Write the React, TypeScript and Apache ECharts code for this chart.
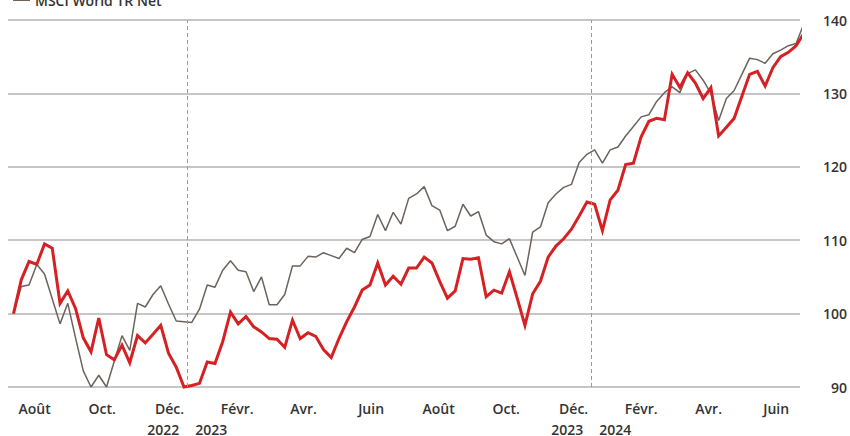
import React, { useEffect, useRef } from 'react';
import * as echarts from 'echarts';

// Weekly observations, first one on this date
const START_DATE = '2022-07-28';

const fundValues = [
  100.0, 104.6, 107.1, 106.7, 109.5, 108.9, 101.4, 103.1, 100.7, 96.7,
  94.8, 99.4, 94.4, 93.7, 95.7, 93.3, 97.0, 96.0, 97.2, 98.4,
  94.6, 92.7, 90.0, 90.2, 90.5, 93.4, 93.2, 96.2, 100.2, 98.6,
  99.6, 98.2, 97.5, 96.6, 96.5, 95.4, 99.1, 96.6, 97.4, 96.9,
  95.1, 94.0, 96.6, 98.9, 100.9, 103.2, 103.9, 106.9, 103.9, 105.1,
  104.0, 106.2, 106.2, 107.7, 106.9, 104.4, 102.1, 103.1, 107.5, 107.4,
  107.6, 102.3, 103.2, 102.8, 105.7, 102.1, 98.4, 102.7, 104.4, 107.7,
  109.2, 110.2, 111.5, 113.3, 115.2, 114.9, 111.3, 115.5, 116.8, 120.3,
  120.5, 124.1, 126.2, 126.6, 126.4, 132.6, 130.8, 132.8, 131.4, 129.3,
  130.8, 124.2, 125.4, 126.6, 129.6, 132.6, 133.0, 131.0, 133.5, 135.0,
  135.6, 136.5, 138.2,
];

const msciValues = [
  100.0, 103.7, 103.9, 106.7, 105.4, 102.0, 98.6, 101.4, 96.7, 92.2,
  90.0, 91.6, 90.0, 93.5, 97.0, 95.0, 101.4, 100.9, 102.6, 103.8,
  101.3, 99.0, 98.9, 98.8, 100.6, 103.9, 103.6, 105.9, 107.2, 105.9,
  105.7, 103.0, 105.0, 101.2, 101.2, 102.6, 106.5, 106.5, 107.8, 107.7,
  108.3, 107.9, 107.5, 108.9, 108.3, 110.1, 110.5, 113.5, 111.3, 113.8,
  112.2, 115.7, 116.3, 117.3, 114.7, 114.1, 111.3, 111.9, 114.9, 113.3,
  113.9, 110.7, 109.8, 109.5, 110.2, 107.7, 105.2, 111.1, 111.8, 115.1,
  116.3, 117.2, 117.6, 120.6, 121.7, 122.3, 120.5, 122.3, 122.7, 124.2,
  125.5, 126.8, 127.1, 128.9, 130.1, 130.9, 130.1, 132.7, 133.2, 131.8,
  130.0, 126.3, 129.3, 130.4, 132.6, 134.8, 134.6, 134.1, 135.4, 135.9,
  136.5, 136.8, 139.5,
];

const monthTickDates = [
  '2022-08-16', '2022-10-16', '2022-12-16', '2023-02-15', '2023-04-16', '2023-06-16',
  '2023-08-16', '2023-10-16', '2023-12-16', '2024-02-15', '2024-04-16', '2024-06-16',
];
const monthTickLabels = [
  'Août', 'Oct.', 'Déc.', 'Févr.', 'Avr.', 'Juin',
  'Août', 'Oct.', 'Déc.', 'Févr.', 'Avr.', 'Juin',
];
const yearBreakDates = ['2023-01-01', '2024-01-01'];
const yearBreakLabels = [['2022', '2023'], ['2023', '2024']];

const Y_MIN = 90;
const Y_MAX = 140;
const Y_STEP = 10;

const FUND_NAME = 'Fonds';
const MSCI_NAME = 'MSCI World TR Net';

const DAY = 86400000;
const dayOf = (s: string) => {
  const [y, m, d] = s.split('-').map(Number);
  return Date.UTC(y, m - 1, d) / DAY;
};

export default function App() {
  const ref = useRef<HTMLDivElement>(null);

  useEffect(() => {
    if (!ref.current) return;
    const chart = echarts.init(ref.current, undefined, { renderer: 'svg' });
    const start = dayOf(START_DATE);
    const xs = fundValues.map((_, i) => start + 7 * i);
    const monthDays = monthTickDates.map(dayOf);
    const yearDays = yearBreakDates.map(dayOf);
    const font = "'Open Sans', 'Noto Sans', sans-serif";
    const textColor = '#333333';

    chart.setOption({
      animation: false,
      textStyle: { fontFamily: font },
      legend: {
        data: [MSCI_NAME],
        left: 8,
        top: -12,
        icon: 'rect',
        itemWidth: 17,
        itemHeight: 2,
        itemGap: 5,
        textStyle: { fontFamily: font, fontSize: 14, fontWeight: 600, color: textColor },
      },
      grid: { left: 8, right: 48, top: 20, bottom: 47, containLabel: false },
      xAxis: [
        {
          type: 'value',
          min: start - 5,
          max: start + 710.5,
          position: 'bottom',
          axisLine: { show: false },
          axisTick: { show: false },
          splitLine: { show: false },
          axisLabel: {
            customValues: monthDays,
            margin: 14,
            fontFamily: font,
            fontSize: 14,
            fontWeight: 600,
            color: textColor,
            formatter: (v: number) => {
              const idx = monthDays.findIndex((d) => Math.abs(d - v) < 0.5);
              return idx >= 0 ? monthTickLabels[idx] : '';
            },
          },
        },
        {
          type: 'value',
          min: start - 5,
          max: start + 710.5,
          position: 'bottom',
          axisLine: { show: false },
          axisTick: { show: false },
          splitLine: { show: false },
          axisLabel: {
            customValues: yearDays,
            margin: 35,
            fontFamily: font,
            fontSize: 14,
            fontWeight: 600,
            color: textColor,
            formatter: (v: number) => {
              const idx = yearDays.findIndex((d) => Math.abs(d - v) < 0.5);
              if (idx < 0) return '';
              return '{a|' + yearBreakLabels[idx][0] + '}{b|' + yearBreakLabels[idx][1] + '}';
            },
            rich: {
              a: { fontFamily: font, fontSize: 14, fontWeight: 600, color: textColor, padding: [0, 8, 0, 0] },
              b: { fontFamily: font, fontSize: 14, fontWeight: 600, color: textColor, padding: [0, 0, 0, 8] },
            },
          },
        },
      ],
      yAxis: {
        type: 'value',
        position: 'right',
        min: Y_MIN,
        max: Y_MAX,
        interval: Y_STEP,
        axisLine: { show: false },
        axisTick: { show: false },
        splitLine: { show: true, lineStyle: { color: '#b3b3b3', width: 1.5 } },
        axisLabel: {
          align: 'right',
          margin: 47,
          fontFamily: font,
          fontSize: 14,
          fontWeight: 600,
          color: textColor,
        },
      },
      series: [
        {
          name: MSCI_NAME,
          type: 'line',
          xAxisIndex: 0,
          data: xs.map((x, i) => [x, msciValues[i]]),
          showSymbol: false,
          symbol: 'none',
          clip: false,
          color: '#6b635c',
          lineStyle: { color: '#6b635c', width: 1.5 },
          z: 2,
          markLine: {
            silent: true,
            symbol: ['none', 'none'],
            label: { show: false },
            lineStyle: { color: '#9a9a9a', width: 1, type: [4, 3] },
            data: yearDays.map((d) => ({ xAxis: d })),
          },
        },
        {
          name: FUND_NAME,
          type: 'line',
          xAxisIndex: 0,
          data: xs.map((x, i) => [x, fundValues[i]]),
          showSymbol: false,
          symbol: 'none',
          clip: false,
          color: '#d52123',
          lineStyle: { color: '#d52123', width: 3, join: 'miter' },
          z: 3,
        },
      ],
    });
    return () => chart.dispose();
  }, []);

  return (
    <div
      ref={ref}
      style={{ position: 'fixed', left: 0, top: 0, width: 850, height: 436, background: '#ffffff' }}
    />
  );
}
